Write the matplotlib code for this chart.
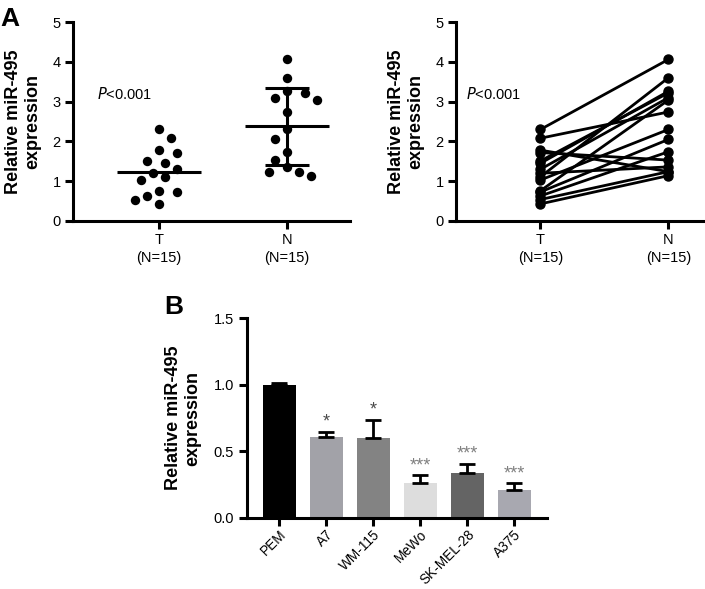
import matplotlib
matplotlib.use("Agg")
import matplotlib.pyplot as plt
import numpy as np

plt.rcParams['font.family'] = ['Liberation Sans', 'DejaVu Sans']

#%% data

groups = ['T\n(N=15)', 'N\n(N=15)']
tumor = [2.30, 2.08, 1.78, 1.72, 1.51, 1.45, 1.30, 1.20, 1.11, 1.03,
         0.76, 0.73, 0.63, 0.54, 0.43]
normal = [4.06, 2.74, 1.24, 1.53, 3.22, 3.26, 3.10, 1.36, 3.60, 2.30,
          3.04, 2.05, 1.74, 1.24, 1.14]   # paired with tumor, same order
p_text = '$\\it{P}$<0.001'

cells = ['PEM', 'A7', 'WM-115', 'MeWo', 'SK-MEL-28', 'A375']
cell_mean = [1.00, 0.61, 0.60, 0.26, 0.34, 0.21]
cell_err = [0.01, 0.035, 0.135, 0.06, 0.065, 0.05]
cell_sig = ['', '*', '*', '***', '***', '***']
cell_colors = ['#000000', '#a2a2a8', '#838383', '#dddddd', '#646464', '#a8a8b0']

ylab = 'Relative miR-495\nexpression'

#%% helpers

W, H = 705, 589


def style_axes(ax, size=10.5):
    for s in ['top', 'right']:
        ax.spines[s].set_visible(False)
    for s in ['left', 'bottom']:
        ax.spines[s].set_linewidth(2.2)
    ax.tick_params(width=2.2, length=6, labelsize=size, pad=3)


def swarm(ax, x0, values, step, clear):
    """Simple beeswarm offsets (data units) so dots keep apart."""
    px_x = ax.transData.transform([(1, 0)])[0][0] - ax.transData.transform([(0, 0)])[0][0]
    px_y = ax.transData.transform([(0, 1)])[0][1] - ax.transData.transform([(0, 0)])[0][1]
    order = np.argsort(values)[::-1]
    placed = []
    xs = np.zeros(len(values))
    for j, i in enumerate(order):
        y = values[i] * px_y
        k = 0
        while True:
            if k == 0:
                cands = [0]
            elif j % 2:
                cands = [k * step, -k * step]
            else:
                cands = [-k * step, k * step]
            ok = None
            for c in cands:
                if all((c - px) ** 2 + (y - py) ** 2 >= clear ** 2
                       for px, py in placed):
                    ok = c
                    break
            if ok is not None:
                placed.append((ok, y))
                xs[i] = x0 + ok / px_x
                break
            k += 1
    return xs


fig = plt.figure(figsize=(W / 100, H / 100), dpi=100)

#%% panel A, left: scatter with mean (+ SD for N)

ax1 = fig.add_axes([73 / W, 1 - 221 / H, 277 / W, 199 / H])
ax1.set_xlim(-0.67, 1.49)
ax1.set_ylim(0, 5)
style_axes(ax1)
fig.canvas.draw()

for i, vals in enumerate([tumor, normal]):
    vals = np.array(vals)
    xs = swarm(ax1, i, vals, 6, 12.5)
    ax1.scatter(xs, vals, s=46, color='black', zorder=3, linewidths=0)
    m = vals.mean()
    ax1.hlines(m, i - 0.33, i + 0.33, color='black', lw=2.2, zorder=4)
    if i == 1:
        sd = vals.std(ddof=1)
        ax1.vlines(i, m - sd, m + sd, color='black', lw=2.2, zorder=4)
        ax1.hlines([m - sd, m + sd], i - 0.17, i + 0.17, color='black',
                   lw=2.2, zorder=4)

ax1.set_xticks([0, 1])
ax1.set_xticklabels(groups, linespacing=1.3)
ax1.set_yticks(range(6))
ax1.set_ylabel(ylab, fontsize=13, fontweight='bold', linespacing=1.2)
ax1.yaxis.set_label_coords(-0.115, 0.5)
ax1.text(-0.48, 3.2, p_text, fontsize=10.5, va='center')

#%% panel A, right: paired lines

ax2 = fig.add_axes([456 / W, 1 - 221 / H, 247 / W, 199 / H])
ax2.set_xlim(-0.66, 1.27)
ax2.set_ylim(0, 5)
style_axes(ax2)
for t, n in zip(tumor, normal):
    ax2.plot([0, 1], [t, n], '-o', color='black', lw=2.0, ms=6.5,
             clip_on=False)
ax2.set_xticks([0, 1])
ax2.set_xticklabels(groups, linespacing=1.3)
ax2.set_yticks(range(6))
ax2.set_ylabel(ylab, fontsize=13, fontweight='bold', linespacing=1.2)
ax2.yaxis.set_label_coords(-0.128, 0.5)
ax2.text(-0.58, 3.2, p_text, fontsize=10.5, va='center')

#%% panel B: bar chart

ax3 = fig.add_axes([246.7 / W, 1 - 517.7 / H, 300 / W, 199.4 / H])
ax3.set_xlim(-0.69, len(cells) - 1 + 0.69)
ax3.set_ylim(0, 1.5)
style_axes(ax3)
x = np.arange(len(cells))
ax3.bar(x, cell_mean, width=0.7, color=cell_colors, zorder=2)
ax3.errorbar(x, cell_mean, yerr=[np.zeros(len(cells)), cell_err], fmt='none',
             ecolor='black', elinewidth=2, capsize=6, capthick=2, zorder=3)
for xi, m, e, s in zip(x, cell_mean, cell_err, cell_sig):
    if s:
        col = '#4a4a4a' if s == '*' else '#808080'
        ax3.text(xi, m + e + 0.008, s, ha='center', va='bottom',
                 fontsize=13, color=col)
ax3.set_xticks(x)
ax3.set_xticklabels(cells, rotation=45, ha='right', rotation_mode='anchor',
                    fontsize=9.8)
ax3.tick_params(axis='x', pad=1)
ax3.set_yticks([0, 0.5, 1.0, 1.5])
ax3.set_yticklabels(['0.0', '0.5', '1.0', '1.5'])
ax3.set_ylabel(ylab, fontsize=13, fontweight='bold', linespacing=1.2)
ax3.yaxis.set_label_coords(-0.15, 0.5)

#%% panel letters

fig.text(0 / W, 1 - 26 / H, 'A', fontsize=19, fontweight='bold')
fig.text(164 / W, 1 - 314 / H, 'B', fontsize=19, fontweight='bold')

fig.savefig('out.png', dpi=100)
